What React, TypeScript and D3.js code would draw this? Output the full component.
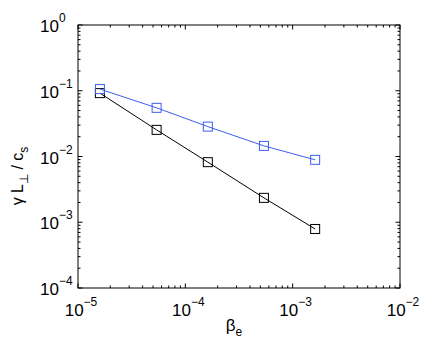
import React, { useRef, useEffect } from 'react';
import * as d3 from 'd3';

const betaE = [1.6e-5, 5.4e-5, 1.62e-4, 5.4e-4, 1.62e-3];
const gammaBlue = [0.106, 0.055, 0.0285, 0.0145, 0.0089];
const gammaBlack = [0.092, 0.0254, 0.0082, 0.00235, 0.00079];
const xDecades = [-5, -4, -3, -2];
const yDecades = [-4, -3, -2, -1, 0];

const W = 442;
const H = 349;
const plot = { left: 78, right: 400, top: 25, bottom: 288 };

const App = () => {
  const ref = useRef<SVGSVGElement>(null);

  useEffect(() => {
    const svg = d3.select(ref.current)
      .attr('width', W)
      .attr('height', H)
      .style('background-color', 'white');
    svg.selectAll('*').remove();

    const font = 'Liberation Sans, Arial, Helvetica, sans-serif';

    const x = d3.scaleLog().domain([1e-5, 1e-2]).range([plot.left, plot.right]);
    const y = d3.scaleLog().domain([1e-4, 1]).range([plot.bottom, plot.top]);

    const g = svg.append('g');

    // minor + major ticks on all sides
    const minor: number[] = [];
    const xMinor: number[] = [];
    yDecades.slice(0, -1).forEach((e) => {
      for (let k = 2; k < 10; k++) minor.push(k * Math.pow(10, e));
    });
    xDecades.slice(0, -1).forEach((e) => {
      for (let k = 2; k < 10; k++) xMinor.push(k * Math.pow(10, e));
    });

    const tickStroke = '#000';
    xMinor.forEach((v) => {
      const px = x(v);
      g.append('line').attr('x1', px).attr('x2', px).attr('y1', plot.bottom).attr('y2', plot.bottom - 2.5).attr('stroke', tickStroke);
      g.append('line').attr('x1', px).attr('x2', px).attr('y1', plot.top).attr('y2', plot.top + 2.5).attr('stroke', tickStroke);
    });
    xDecades.forEach((e) => {
      const px = x(Math.pow(10, e));
      g.append('line').attr('x1', px).attr('x2', px).attr('y1', plot.bottom).attr('y2', plot.bottom - 4.5).attr('stroke', tickStroke);
      g.append('line').attr('x1', px).attr('x2', px).attr('y1', plot.top).attr('y2', plot.top + 4.5).attr('stroke', tickStroke);
    });
    minor.forEach((v) => {
      const py = y(v);
      g.append('line').attr('y1', py).attr('y2', py).attr('x1', plot.left).attr('x2', plot.left + 2.5).attr('stroke', tickStroke);
      g.append('line').attr('y1', py).attr('y2', py).attr('x1', plot.right).attr('x2', plot.right - 2.5).attr('stroke', tickStroke);
    });
    yDecades.forEach((e) => {
      const py = y(Math.pow(10, e));
      g.append('line').attr('y1', py).attr('y2', py).attr('x1', plot.left).attr('x2', plot.left + 4.5).attr('stroke', tickStroke);
      g.append('line').attr('y1', py).attr('y2', py).attr('x1', plot.right).attr('x2', plot.right - 4.5).attr('stroke', tickStroke);
    });

    // frame
    g.append('rect')
      .attr('x', plot.left).attr('y', plot.top)
      .attr('width', plot.right - plot.left).attr('height', plot.bottom - plot.top)
      .attr('fill', 'none').attr('stroke', '#000').attr('stroke-width', 1);

    const expText = (e: number) => (e < 0 ? '\u2212' + Math.abs(e) : String(e));

    // x tick labels
    xDecades.forEach((e) => {
      const t = g.append('text')
        .attr('x', x(Math.pow(10, e)) + 3)
        .attr('y', 316)
        .attr('text-anchor', 'middle')
        .style('font-family', font)
        .style('font-size', '17px');
      t.append('tspan').text('10');
      t.append('tspan').attr('dy', -10).style('font-size', '12px').text(expText(e));
    });

    // y tick labels
    yDecades.forEach((e) => {
      const t = g.append('text')
        .attr('x', 40)
        .attr('y', y(Math.pow(10, e)) + 7)
        .style('font-family', font)
        .style('font-size', '17px');
      t.append('tspan').text('10');
      t.append('tspan').attr('dy', -10).style('font-size', '12px').text(expText(e));
    });

    // series
    const line = d3.line<number>()
      .x((_, i) => x(betaE[i]))
      .y((d) => y(d));

    const series = [
      { values: gammaBlack, color: '#000000' },
      { values: gammaBlue, color: '#3a5ff0' },
    ];
    const m = 9;
    series.forEach((s) => {
      g.append('path')
        .attr('d', line(s.values))
        .attr('fill', 'none')
        .attr('stroke', s.color)
        .attr('stroke-width', 1);
      g.selectAll(null)
        .data(s.values)
        .enter()
        .append('rect')
        .attr('x', (_, i) => x(betaE[i]) - m / 2)
        .attr('y', (d) => y(d) - m / 2)
        .attr('width', m)
        .attr('height', m)
        .attr('fill', 'none')
        .attr('stroke', s.color)
        .attr('stroke-width', 1);
    });

    // axis labels
    const xl = g.append('text')
      .attr('x', 234)
      .attr('y', 331)
      .attr('text-anchor', 'middle')
      .style('font-family', font)
      .style('font-size', '17px');
    xl.append('tspan').text('\u03b2');
    xl.append('tspan').attr('dy', 5).style('font-size', '12px').text('e');

    const yl = g.append('text')
      .attr('transform', 'translate(23, 176) rotate(-90)')
      .attr('text-anchor', 'middle')
      .style('font-family', font)
      .style('font-size', '16px');
    yl.append('tspan').text('\u03b3 L');
    yl.append('tspan').attr('dy', 5).style('font-size', '12px').text('\u22a5');
    yl.append('tspan').attr('dy', -5).text(' / c');
    yl.append('tspan').attr('dy', 5).style('font-size', '12px').text('s');
  }, []);

  return (
    <div>
      <svg ref={ref} style={{ position: 'absolute', left: 0, top: 0 }}></svg>
    </div>
  );
};

export default App;
